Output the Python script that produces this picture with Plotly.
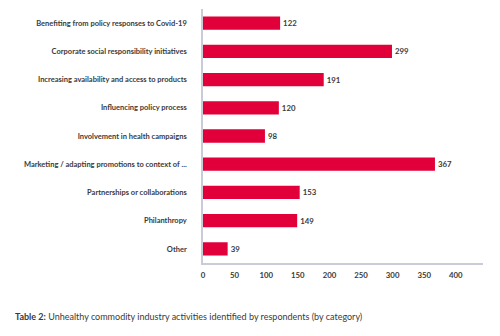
import plotly.graph_objects as go

categories = [
    "Benefiting from policy responses to Covid-19",
    "Corporate social responsibility initiatives",
    "Increasing availability and access to products",
    "Influencing policy process",
    "Involvement in health campaigns",
    "Marketing / adapting promotions to context of ...",
    "Partnerships or collaborations",
    "Philanthropy",
    "Other",
]
values = [122, 299, 191, 120, 98, 367, 153, 149, 39]
x_ticks = [0, 50, 100, 150, 200, 250, 300, 350, 400]

bar_color = "#E2003A"
text_color = "#3a3a3a"
axis_color = "#c9ccd6"
font_family = "Lato, 'Open Sans', sans-serif"

fig = go.Figure(
    go.Bar(
        x=values,
        y=categories,
        orientation="h",
        marker=dict(color=bar_color, line=dict(width=0)),
        width=0.47,
        text=values,
        textposition="outside",
        textfont=dict(size=7.8, color=text_color, family=font_family, weight="bold"),
        cliponaxis=False,
    )
)

fig.update_layout(
    width=500,
    height=336,
    margin=dict(l=203, r=17, t=9, b=73),
    paper_bgcolor="white",
    plot_bgcolor="white",
    showlegend=False,
    font=dict(family=font_family, color=text_color),
    xaxis=dict(
        range=[0, 443],
        tickvals=x_ticks,
        showgrid=False,
        zeroline=False,
        showline=True,
        linecolor=axis_color,
        linewidth=1.5,
        ticks="",
        tickfont=dict(size=7.8, color=text_color, family=font_family, weight="bold"),
        ticklabelstandoff=4,
    ),
    yaxis=dict(
        categoryorder="array",
        categoryarray=categories[::-1],
        range=[-0.5, 8.5],
        showgrid=False,
        zeroline=False,
        showline=True,
        linecolor=axis_color,
        linewidth=1.5,
        ticks="",
        tickfont=dict(size=7.5, color=text_color, family=font_family, weight="bold"),
        ticklabelstandoff=13,
    ),
    annotations=[
        dict(
            text="<b>Table 2:</b> Unhealthy commodity industry activities identified by respondents (by category)",
            xref="paper", yref="paper",
            x=(13 - 203) / 280, y=-53 / 254,
            xanchor="left", yanchor="middle",
            showarrow=False,
            font=dict(size=9, color=text_color, family=font_family),
        )
    ],
)

fig.write_html("out.html")
